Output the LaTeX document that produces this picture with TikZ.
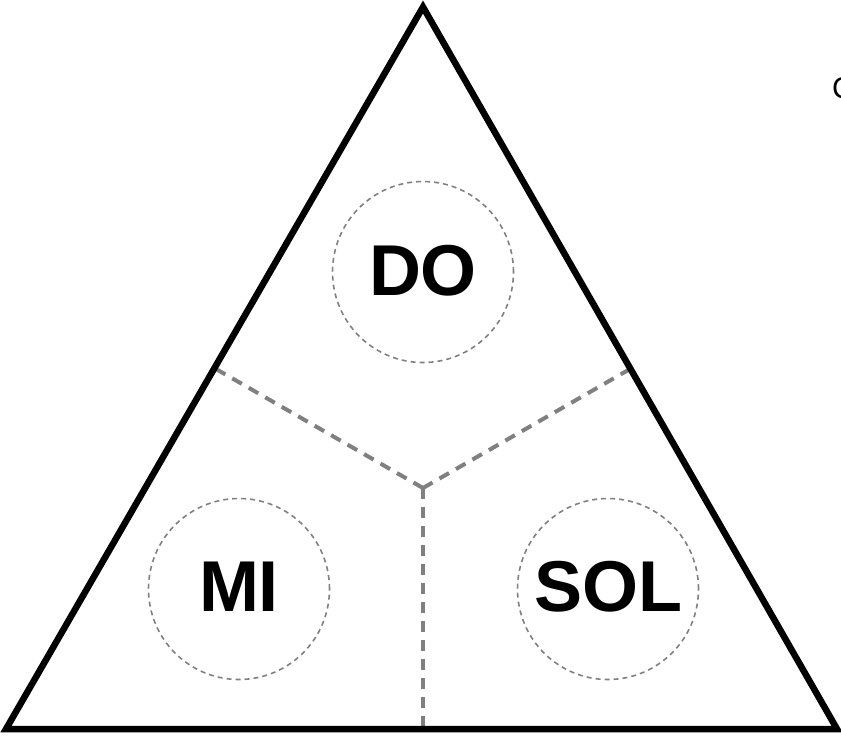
\documentclass[tikz,border=0pt]{standalone}
\usepackage{fontspec}
\setmainfont{Liberation Sans}
\definecolor{dgray}{RGB}{128,128,128}
\begin{document}
\begin{tikzpicture}[x=1pt,y=-1pt,
  side/.style={line width=6.5pt, line join=miter, black},
  divider/.style={line width=4pt, dgray, dash pattern=on 11pt off 8pt},
  ring/.style={circle, draw=dgray, line width=1.6pt, dash pattern=on 5pt off 4pt, minimum size=181pt, inner sep=0pt},
  lab/.style={font=\fontsize{72}{72}\selectfont\bfseries}]
\useasboundingbox (0,0) rectangle (841,736);
\coordinate (apex) at (423,7);
\coordinate (bl) at (6,729);
\coordinate (br) at (837,729);
\coordinate (cen) at (423,488);
\coordinate (ml) at (216,369);
\coordinate (mr) at (630,369);
\coordinate (mb) at (423,729);
\draw[divider] (cen) -- (ml);
\draw[divider] (cen) -- (mr);
\draw[divider] (cen) -- (mb);
\draw[side] (apex) -- (br) -- (bl) -- cycle;
\node[ring] (c1) at (423,272) {};
\node[ring] (c2) at (239,589) {};
\node[ring] (c3) at (608,589) {};
\node[lab] (t1) at (423,271) {DO};
\node[lab] (t2) at (239,587) {MI};
\node[lab] (t3) at (608,587) {SOL};
\node[font=\fontsize{30}{30}\selectfont, anchor=west, inner sep=0pt] (cc) at (832,88) {C};
\end{tikzpicture}
\end{document}
